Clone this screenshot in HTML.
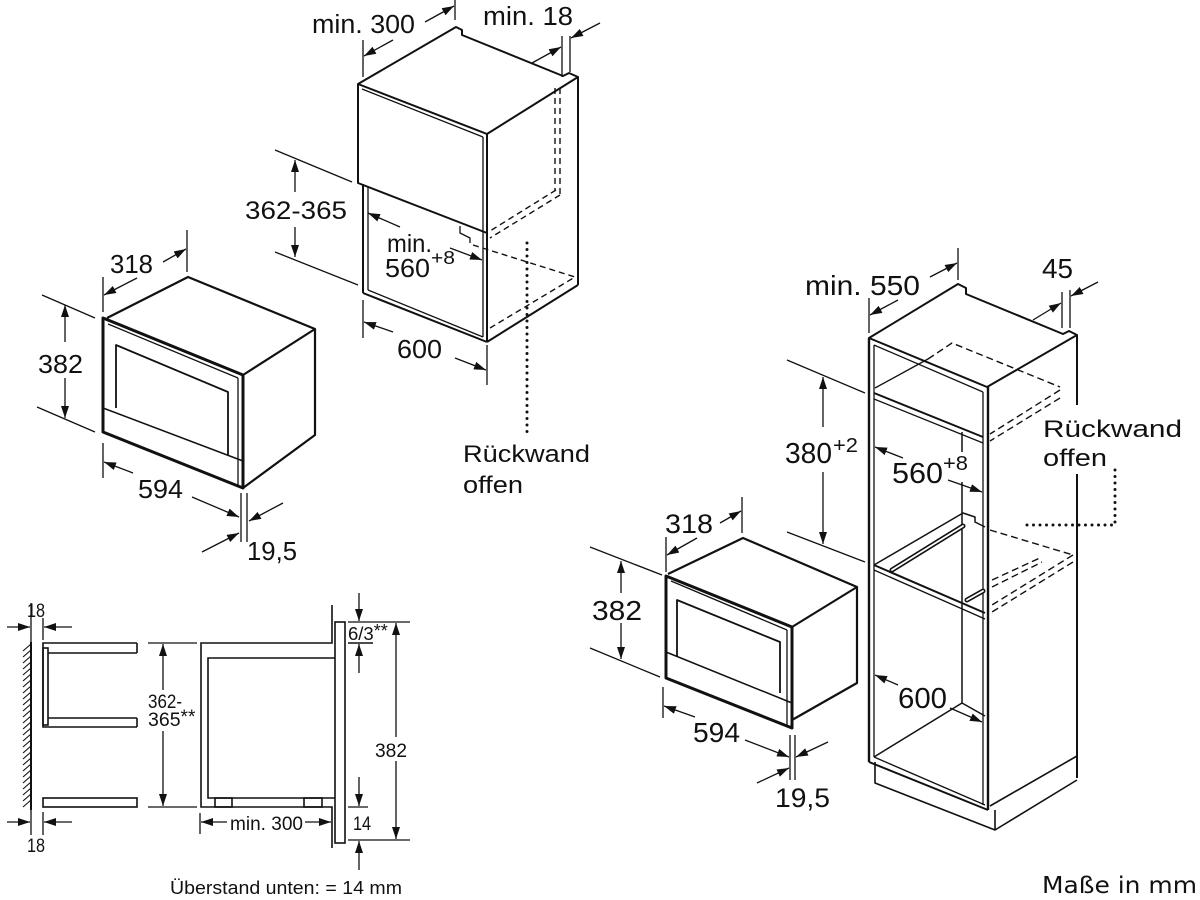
<!DOCTYPE html>
<html><head><meta charset="utf-8"><style>
html,body{margin:0;padding:0;background:#fff;}
svg{display:block;}
text{font-family:"Liberation Sans",Arial,sans-serif;fill:#111;}
</style></head><body>
<svg width="1200" height="900" viewBox="0 0 1200 900" xmlns="http://www.w3.org/2000/svg">
<defs>
<marker id="a" viewBox="0 0 12 8" refX="12" refY="4" markerWidth="12" markerHeight="8" markerUnits="userSpaceOnUse" orient="auto"><path d="M0,0 L12,4 L0,8 Z" fill="#111"/></marker>
</defs>
<rect width="1200" height="900" fill="#fff"/>

<!-- ============ TOP CABINET ============ -->
<g stroke="#111" fill="none" stroke-linejoin="round">
<path d="M358,84 L456,27 L462,30 L462,35 L563,76 L569,73 L578,77 L487,134 Z" stroke-width="2"/>
<path d="M358,84 L358,183 L487,233 L487,134" stroke-width="2"/>
<line x1="362" y1="89" x2="483" y2="137" stroke-width="1.3"/>
<line x1="483" y1="137" x2="483" y2="233" stroke-width="1.3"/>
<line x1="578" y1="77" x2="578" y2="285" stroke-width="2"/>
<line x1="363" y1="184" x2="363" y2="293" stroke-width="2"/>
<line x1="368" y1="186" x2="368" y2="290" stroke-width="1.3"/>
<line x1="363" y1="293" x2="487" y2="342" stroke-width="2"/>
<line x1="368" y1="290" x2="483" y2="337" stroke-width="1.3"/>
<line x1="487" y1="233" x2="487" y2="342" stroke-width="2"/>
<line x1="483" y1="233" x2="483" y2="337" stroke-width="1.3"/>
<line x1="487" y1="342" x2="578" y2="285" stroke-width="2"/>
<polyline points="460,226 460,233 470,238 470,243" stroke-width="1.3"/>
<g stroke-dasharray="6,4" stroke-width="1.4">
<line x1="555" y1="88" x2="555" y2="190"/>
<line x1="560" y1="88" x2="560" y2="194"/>
<line x1="556" y1="190" x2="490" y2="231"/>
<line x1="560" y1="195" x2="490" y2="238"/>
<line x1="473" y1="245" x2="575" y2="277"/>
<line x1="490" y1="328" x2="575" y2="277"/>
</g>
<line x1="527" y1="243" x2="527" y2="435" stroke-width="3" stroke-dasharray="0,6.5" stroke-linecap="round"/>
</g>
<g stroke="#111" fill="none" stroke-width="1.3">
<line x1="363" y1="40" x2="363" y2="77"/>
<line x1="455" y1="0" x2="455" y2="20"/>
<line x1="393" y1="40" x2="364" y2="56" marker-end="url(#a)"/>
<line x1="425" y1="22" x2="454" y2="6" marker-end="url(#a)"/>
<line x1="562" y1="36" x2="562" y2="77"/>
<line x1="570" y1="36" x2="570" y2="72"/>
<line x1="532" y1="63" x2="561" y2="47" marker-end="url(#a)"/>
<line x1="600" y1="23" x2="571" y2="38" marker-end="url(#a)"/>
<line x1="275" y1="150" x2="352" y2="182"/>
<line x1="275" y1="252" x2="358" y2="285"/>
<line x1="295" y1="192" x2="295" y2="160" marker-end="url(#a)"/>
<line x1="295" y1="227" x2="295" y2="257" marker-end="url(#a)"/>
<line x1="400" y1="227" x2="368" y2="213" marker-end="url(#a)"/>
<line x1="450" y1="248" x2="482" y2="260" marker-end="url(#a)"/>
<line x1="363" y1="300" x2="363" y2="338"/>
<line x1="487" y1="345" x2="487" y2="385"/>
<line x1="393" y1="332" x2="364" y2="322" marker-end="url(#a)"/>
<line x1="455" y1="358" x2="486" y2="370" marker-end="url(#a)"/>
</g>
<text x="312" y="33" font-size="25.5" textLength="103" lengthAdjust="spacingAndGlyphs">min. 300</text>
<text x="483" y="25" font-size="25.5" textLength="90" lengthAdjust="spacingAndGlyphs">min. 18</text>
<text x="245" y="219" font-size="25" textLength="102" lengthAdjust="spacingAndGlyphs">362-365</text>
<text x="387" y="252" font-size="25" textLength="45" lengthAdjust="spacingAndGlyphs">min.</text>
<text x="385" y="277" font-size="25.5" textLength="45" lengthAdjust="spacingAndGlyphs">560</text>
<text x="431" y="264" font-size="18" textLength="24" lengthAdjust="spacingAndGlyphs">+8</text>
<text x="397" y="358" font-size="25.5" textLength="45" lengthAdjust="spacingAndGlyphs">600</text>
<text x="463" y="462" font-size="24.5" textLength="127" lengthAdjust="spacingAndGlyphs">Rückwand</text>
<text x="463" y="493" font-size="24.5" textLength="60" lengthAdjust="spacingAndGlyphs">offen</text>

<!-- ============ LEFT MICROWAVE ============ -->
<g stroke="#111" fill="none" stroke-linejoin="round">
<path d="M103,318 L243,375 L243,488 L103,432 Z" stroke-width="3"/>
<line x1="108" y1="324" x2="238" y2="378" stroke-width="1.3"/>
<line x1="238" y1="378" x2="238" y2="486" stroke-width="1.3"/>
<path d="M107,318 L188,277 L315,329 L243,375" stroke-width="2.2"/>
<path d="M315,329 L315,435 L243,488" stroke-width="2.2"/>
<path d="M116,408 L116,345 L228,392 L228,455" stroke-width="1.8"/>
<line x1="103" y1="408" x2="243" y2="461" stroke-width="1.5"/>
</g>
<g stroke="#111" fill="none" stroke-width="1.3">
<line x1="103" y1="277" x2="103" y2="312"/>
<line x1="187" y1="230" x2="187" y2="272"/>
<line x1="137" y1="278" x2="104" y2="295" marker-end="url(#a)"/>
<line x1="163" y1="262" x2="186" y2="249" marker-end="url(#a)"/>
<line x1="42" y1="295" x2="95" y2="318"/>
<line x1="37" y1="407" x2="95" y2="432"/>
<line x1="65" y1="342" x2="65" y2="305" marker-end="url(#a)"/>
<line x1="65" y1="378" x2="65" y2="418" marker-end="url(#a)"/>
<line x1="103" y1="443" x2="103" y2="478"/>
<line x1="133" y1="473" x2="104" y2="462" marker-end="url(#a)"/>
<line x1="192" y1="497" x2="239" y2="517" marker-end="url(#a)"/>
<line x1="241" y1="493" x2="241" y2="542"/>
<line x1="247" y1="493" x2="247" y2="542"/>
<line x1="283" y1="503" x2="249" y2="521" marker-end="url(#a)"/>
<line x1="202" y1="552" x2="239" y2="533" marker-end="url(#a)"/>
</g>
<text x="110" y="273" font-size="25.5" textLength="43" lengthAdjust="spacingAndGlyphs">318</text>
<text x="38" y="373" font-size="25.5" textLength="45" lengthAdjust="spacingAndGlyphs">382</text>
<text x="138" y="498" font-size="25.5" textLength="45" lengthAdjust="spacingAndGlyphs">594</text>
<text x="247" y="560" font-size="25.5" textLength="50" lengthAdjust="spacingAndGlyphs">19,5</text>

<!-- ============ SECTION (bottom left) ============ -->
<g stroke="#111" fill="none">
<line x1="31" y1="642" x2="31" y2="810" stroke-width="2"/>
<g stroke-width="1.1">
<line x1="23" y1="651" x2="31" y2="644"/><line x1="23" y1="657" x2="31" y2="650"/><line x1="23" y1="663" x2="31" y2="656"/><line x1="23" y1="669" x2="31" y2="662"/><line x1="23" y1="675" x2="31" y2="668"/><line x1="23" y1="681" x2="31" y2="674"/><line x1="23" y1="687" x2="31" y2="680"/><line x1="23" y1="693" x2="31" y2="686"/><line x1="23" y1="699" x2="31" y2="692"/><line x1="23" y1="705" x2="31" y2="698"/><line x1="23" y1="711" x2="31" y2="704"/><line x1="23" y1="717" x2="31" y2="710"/><line x1="23" y1="723" x2="31" y2="716"/><line x1="23" y1="729" x2="31" y2="722"/><line x1="23" y1="735" x2="31" y2="728"/><line x1="23" y1="741" x2="31" y2="734"/><line x1="23" y1="747" x2="31" y2="740"/><line x1="23" y1="753" x2="31" y2="746"/><line x1="23" y1="759" x2="31" y2="752"/><line x1="23" y1="765" x2="31" y2="758"/><line x1="23" y1="771" x2="31" y2="764"/><line x1="23" y1="777" x2="31" y2="770"/><line x1="23" y1="783" x2="31" y2="776"/><line x1="23" y1="789" x2="31" y2="782"/><line x1="23" y1="795" x2="31" y2="788"/><line x1="23" y1="801" x2="31" y2="794"/><line x1="23" y1="807" x2="31" y2="800"/>
</g>
<g stroke-width="1.6">
<path d="M137,643 L43,643 L43,727 L137,727"/>
<line x1="137" y1="643" x2="137" y2="653"/>
<line x1="137" y1="718" x2="137" y2="727"/>
<rect x="43" y="648" width="5" height="77"/>
<line x1="48" y1="653" x2="137" y2="653"/>
<line x1="48" y1="718" x2="137" y2="718"/>
<rect x="43" y="798" width="94" height="9"/>
<path d="M332,605 L332,643 L201,643 L201,807 L332,807 L332,848"/>
<rect x="335" y="622" width="10" height="221"/>
<path d="M335,658 L208,658 L208,798 L335,798"/>
<rect x="215" y="798" width="17" height="9"/>
<rect x="304" y="798" width="18" height="9"/>
</g>
</g>
<g stroke="#111" fill="none" stroke-width="1.3">
<line x1="31" y1="603" x2="31" y2="642"/>
<line x1="43" y1="618" x2="43" y2="640"/>
<line x1="7" y1="627" x2="30" y2="627" marker-end="url(#a)"/>
<line x1="72" y1="627" x2="44" y2="627" marker-end="url(#a)"/>
<line x1="31" y1="810" x2="31" y2="835"/>
<line x1="43" y1="812" x2="43" y2="835"/>
<line x1="7" y1="822" x2="30" y2="822" marker-end="url(#a)"/>
<line x1="72" y1="822" x2="44" y2="822" marker-end="url(#a)"/>
<line x1="148" y1="643" x2="197" y2="643"/>
<line x1="148" y1="807" x2="197" y2="807"/>
<line x1="163" y1="690" x2="163" y2="644" marker-end="url(#a)"/>
<line x1="163" y1="731" x2="163" y2="806" marker-end="url(#a)"/>
<line x1="200" y1="813" x2="200" y2="834"/>
<line x1="227" y1="822" x2="201" y2="822" marker-end="url(#a)"/>
<line x1="305" y1="822" x2="331" y2="822" marker-end="url(#a)"/>
<line x1="359" y1="593" x2="359" y2="621" marker-end="url(#a)"/>
<line x1="348" y1="622" x2="410" y2="622"/>
<line x1="348" y1="643" x2="373" y2="643" stroke-width="1.5"/>
<line x1="359" y1="673" x2="359" y2="644" marker-end="url(#a)"/>
<line x1="396" y1="737" x2="396" y2="623" marker-end="url(#a)"/>
<line x1="396" y1="761" x2="396" y2="839" marker-end="url(#a)"/>
<line x1="348" y1="807" x2="368" y2="807"/>
<line x1="359" y1="777" x2="359" y2="806" marker-end="url(#a)"/>
<line x1="348" y1="840" x2="410" y2="840"/>
<line x1="359" y1="870" x2="359" y2="841" marker-end="url(#a)"/>
</g>
<text x="27" y="617" font-size="19" textLength="18" lengthAdjust="spacingAndGlyphs">18</text>
<text x="27" y="852" font-size="19" textLength="18" lengthAdjust="spacingAndGlyphs">18</text>
<text x="148" y="708" font-size="19.5" textLength="34" lengthAdjust="spacingAndGlyphs">362-</text>
<text x="148" y="726" font-size="19.5">365<tspan font-size="19" dy="-3">**</tspan></text>
<text x="230" y="830" font-size="19" textLength="73" lengthAdjust="spacingAndGlyphs">min. 300</text>
<text x="348" y="640" font-size="18.5">6/3<tspan font-size="18" dy="-3">**</tspan></text>
<text x="375" y="757" font-size="19.5" textLength="32" lengthAdjust="spacingAndGlyphs">382</text>
<text x="353" y="830" font-size="19" textLength="18" lengthAdjust="spacingAndGlyphs">14</text>
<text x="170" y="894" font-size="18" textLength="232" lengthAdjust="spacingAndGlyphs">Überstand unten: = 14 mm</text>

<!-- ============ RIGHT MICROWAVE ============ -->
<g stroke="#111" fill="none" stroke-linejoin="round">
<path d="M666,576 L792,627 L792,728 L666,678 Z" stroke-width="3"/>
<line x1="671" y1="581" x2="787" y2="630" stroke-width="1.3"/>
<line x1="787" y1="630" x2="787" y2="726" stroke-width="1.3"/>
<path d="M668,574 L743,538 L857,587 L792,627" stroke-width="2.2"/>
<path d="M857,587 L857,683 L792,720" stroke-width="2.2"/>
<path d="M677,657 L677,600 L780,642 L780,693" stroke-width="1.8"/>
<line x1="666" y1="652" x2="792" y2="703" stroke-width="1.5"/>
</g>
<g stroke="#111" fill="none" stroke-width="1.3">
<line x1="666" y1="537" x2="666" y2="572"/>
<line x1="742" y1="497" x2="742" y2="533"/>
<line x1="697" y1="538" x2="667" y2="555" marker-end="url(#a)"/>
<line x1="720" y1="523" x2="741" y2="511" marker-end="url(#a)"/>
<line x1="590" y1="547" x2="662" y2="575"/>
<line x1="590" y1="648" x2="660" y2="677"/>
<line x1="621" y1="593" x2="621" y2="561" marker-end="url(#a)"/>
<line x1="621" y1="623" x2="621" y2="659" marker-end="url(#a)"/>
<line x1="663" y1="687" x2="663" y2="718"/>
<line x1="695" y1="717" x2="664" y2="706" marker-end="url(#a)"/>
<line x1="745" y1="740" x2="789" y2="757" marker-end="url(#a)"/>
<line x1="790" y1="735" x2="790" y2="780"/>
<line x1="795" y1="735" x2="795" y2="780"/>
<line x1="828" y1="742" x2="796" y2="757" marker-end="url(#a)"/>
<line x1="757" y1="783" x2="789" y2="768" marker-end="url(#a)"/>
</g>
<text x="665" y="533" font-size="27" textLength="48" lengthAdjust="spacingAndGlyphs">318</text>
<text x="592" y="620" font-size="27.5" textLength="50" lengthAdjust="spacingAndGlyphs">382</text>
<text x="693" y="742" font-size="27.5" textLength="47" lengthAdjust="spacingAndGlyphs">594</text>
<text x="775" y="807" font-size="27" textLength="55" lengthAdjust="spacingAndGlyphs">19,5</text>

<!-- ============ RIGHT TALL CABINET ============ -->
<g stroke="#111" fill="none" stroke-linejoin="round">
<path d="M869,338 L958,284 L966,288 L966,294 L1063,334 L1069,331 L1077,335 L987,387 Z" stroke-width="2"/>
<line x1="874" y1="345" x2="983" y2="392" stroke-width="1.3"/>
<line x1="869" y1="338" x2="869" y2="762" stroke-width="2.4"/>
<line x1="874" y1="345" x2="874" y2="757" stroke-width="1.3"/>
<line x1="988" y1="387" x2="988" y2="810" stroke-width="2.4"/>
<line x1="983" y1="392" x2="983" y2="805" stroke-width="1.3"/>
<line x1="1077" y1="335" x2="1077" y2="405" stroke-width="2"/>
<line x1="1077" y1="474" x2="1077" y2="778" stroke-width="2"/>
<line x1="874" y1="393" x2="983" y2="437" stroke-width="2"/>
<line x1="874" y1="399" x2="983" y2="443" stroke-width="1.3"/>
<line x1="875" y1="388" x2="928" y2="359" stroke-width="1.3"/>
<line x1="962" y1="432" x2="962" y2="452" stroke-width="1.5"/>
<line x1="962" y1="482" x2="962" y2="703" stroke-width="1.5"/>
<line x1="874" y1="565" x2="985" y2="613" stroke-width="2"/>
<line x1="874" y1="570" x2="985" y2="619" stroke-width="1.3"/>
<path d="M874,565 L963,513 L975,517 L975,522 L985,527" stroke-width="1.5"/>
<line x1="892" y1="570" x2="963" y2="526" stroke-width="5" stroke-linecap="round"/>
<line x1="892" y1="570" x2="963" y2="526" stroke-width="1.8" stroke="#fff" stroke-linecap="round"/>
<line x1="967" y1="600" x2="983" y2="591" stroke-width="5" stroke-linecap="round"/>
<line x1="967" y1="600" x2="983" y2="591" stroke-width="1.8" stroke="#fff" stroke-linecap="round"/>
<line x1="874" y1="757" x2="962" y2="703" stroke-width="1.5"/>
<line x1="962" y1="703" x2="985" y2="716" stroke-width="1.5"/>
<line x1="874" y1="757" x2="985" y2="805" stroke-width="1.3"/>
<line x1="869" y1="762" x2="988" y2="810" stroke-width="2"/>
<path d="M875,762 L875,783 L995,830 L1077,780" stroke-width="1.6"/>
<line x1="995" y1="810" x2="995" y2="830" stroke-width="1.6"/>
<line x1="990" y1="806" x2="1077" y2="756" stroke-width="1.6"/>
<g stroke-dasharray="7,4" stroke-width="1.4">
<path d="M928,359 L952,343 L1060,387"/>
<line x1="1060" y1="390" x2="990" y2="434"/>
<line x1="1060" y1="398" x2="990" y2="441"/>
<line x1="990" y1="530" x2="1073" y2="555"/>
<line x1="1073" y1="555" x2="992" y2="605"/>
<line x1="1073" y1="562" x2="992" y2="612"/>
<line x1="992" y1="580" x2="1042" y2="557"/>
<line x1="992" y1="587" x2="1042" y2="562"/>
</g>
<path d="M1115,470 L1115,525 L1025,525" stroke-width="3" stroke-dasharray="0,6.5" stroke-linecap="round"/>
</g>
<g stroke="#111" fill="none" stroke-width="1.3">
<line x1="869" y1="298" x2="869" y2="333"/>
<line x1="958" y1="248" x2="958" y2="280"/>
<line x1="898" y1="300" x2="870" y2="315" marker-end="url(#a)"/>
<line x1="930" y1="277" x2="957" y2="263" marker-end="url(#a)"/>
<line x1="1062" y1="292" x2="1062" y2="328"/>
<line x1="1070" y1="290" x2="1070" y2="328"/>
<line x1="1033" y1="320" x2="1061" y2="303" marker-end="url(#a)"/>
<line x1="1098" y1="282" x2="1071" y2="296" marker-end="url(#a)"/>
<line x1="787" y1="360" x2="865" y2="393"/>
<line x1="787" y1="532" x2="865" y2="562"/>
<line x1="823" y1="427" x2="823" y2="377" marker-end="url(#a)"/>
<line x1="823" y1="472" x2="823" y2="544" marker-end="url(#a)"/>
<line x1="903" y1="458" x2="875" y2="447" marker-end="url(#a)"/>
<line x1="948" y1="480" x2="982" y2="492" marker-end="url(#a)"/>
<line x1="898" y1="685" x2="875" y2="675" marker-end="url(#a)"/>
<line x1="950" y1="708" x2="982" y2="722" marker-end="url(#a)"/>
</g>
<text x="805" y="295" font-size="28" textLength="115" lengthAdjust="spacingAndGlyphs">min. 550</text>
<text x="1042" y="278" font-size="28" textLength="31" lengthAdjust="spacingAndGlyphs">45</text>
<text x="785" y="463" font-size="29" textLength="47" lengthAdjust="spacingAndGlyphs">380</text>
<text x="833" y="452" font-size="20" textLength="25" lengthAdjust="spacingAndGlyphs">+2</text>
<text x="892" y="483" font-size="29" textLength="51" lengthAdjust="spacingAndGlyphs">560</text>
<text x="943" y="470" font-size="20" textLength="25" lengthAdjust="spacingAndGlyphs">+8</text>
<text x="1043" y="437" font-size="24.5" textLength="139" lengthAdjust="spacingAndGlyphs">Rückwand</text>
<text x="1043" y="466" font-size="24.5" textLength="64" lengthAdjust="spacingAndGlyphs">offen</text>
<text x="898" y="708" font-size="29" textLength="49" lengthAdjust="spacingAndGlyphs">600</text>

<text x="1042" y="893" font-size="23" textLength="155" lengthAdjust="spacingAndGlyphs" style="font-family:'DejaVu Sans','Liberation Sans',sans-serif">Maße in mm</text>
</svg>
</body></html>
